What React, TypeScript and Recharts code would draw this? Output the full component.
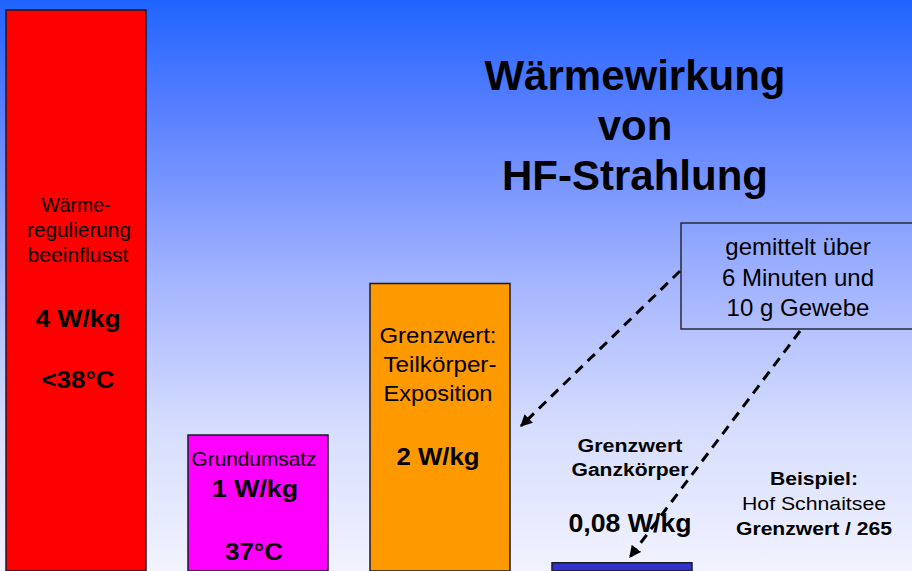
import React from 'react';
import { BarChart, Bar, XAxis, YAxis, Cell } from 'recharts';

// Balken: Wärmewirkung in W/kg (Höhen)
const kategorien = ['Wärmeregulierung', 'Grundumsatz', 'Teilkörper', 'Ganzkörper', 'Hof Schnaitsee'];
const werte = [4.0, 0.97, 2.05, 0.058, 0.0003];
const farben = ['#ff0000', '#ff00ff', '#ff9900', '#3333cc', '#3333cc'];

const daten = kategorien.map((name, i) => ({ name, wert: werte[i] }));

const titelZeilen = ['Wärmewirkung', 'von', 'HF-Strahlung'];
const boxZeilen = ['gemittelt über', '6 Minuten und', '10 g Gewebe'];

type Txt = { t: string; x: number; y: number; s: number; b?: boolean; w?: number };

// Beschriftungen (Layout)
const texte: Txt[] = [
  { t: 'Wärme-', x: 76, y: 212, s: 20, w: 69 },
  { t: 'regulierung', x: 79, y: 237, s: 20, w: 104 },
  { t: 'beeinflusst', x: 78, y: 262, s: 20, w: 101 },
  { t: '4 W/kg', x: 78, y: 327, s: 23, b: true, w: 85 },
  { t: '<38°C', x: 78, y: 388, s: 23, b: true, w: 73 },

  { t: 'Grundumsatz', x: 254, y: 466, s: 20, w: 125 },
  { t: '1 W/kg', x: 255, y: 497, s: 24, b: true, w: 86 },
  { t: '37°C', x: 254, y: 560, s: 24, b: true, w: 58 },

  { t: 'Grenzwert:', x: 438, y: 343, s: 22, w: 117 },
  { t: 'Teilkörper-', x: 440, y: 372, s: 22, w: 113 },
  { t: 'Exposition', x: 438, y: 401, s: 22, w: 109 },
  { t: '2 W/kg', x: 438, y: 465, s: 24, b: true, w: 83 },

  { t: 'Grenzwert', x: 630, y: 452, s: 18, b: true, w: 105 },
  { t: 'Ganzkörper', x: 630, y: 476, s: 18, b: true, w: 117 },
  { t: '0,08 W/kg', x: 630, y: 532, s: 25, b: true, w: 123 },

  { t: 'Beispiel:', x: 814, y: 485, s: 18, b: true, w: 88 },
  { t: 'Hof Schnaitsee', x: 814, y: 510, s: 18, w: 144 },
  { t: 'Grenzwert / 265', x: 814, y: 535, s: 18, b: true, w: 156 },
];

const FONT = '"Liberation Sans", Arial, sans-serif';

const App: React.FC = () => {
  return (
    <div
      style={{
        position: 'absolute',
        left: 0,
        top: 0,
        width: 912,
        height: 571,
        overflow: 'hidden',
        background: 'linear-gradient(to bottom, #1f64ff 0%, #5a80ff 20%, #a6b6ff 50%, #d6ddfd 75%, #f2f3ff 100%)',
      }}
    >
      <div style={{ position: 'absolute', left: -15, top: 0 }}>
        <BarChart width={910} height={571} data={daten} margin={{ top: 10, right: 0, bottom: 0, left: 0 }} barCategoryGap={21}>
          <XAxis dataKey="name" hide />
          <YAxis hide domain={[0, 4]} />
          <Bar dataKey="wert" isAnimationActive={false} strokeWidth={1.5}>
            {daten.map((d, i) => (
              <Cell key={d.name} fill={farben[i]} stroke={i < 4 ? '#1a1a2a' : 'none'} />
            ))}
          </Bar>
        </BarChart>
      </div>

      <svg width={912} height={571} style={{ position: 'absolute', left: 0, top: 0 }}>
        <defs>
          <marker id="pfeil" viewBox="0 0 10 10" refX="9" refY="5" markerWidth="4" markerHeight="4" orient="auto">
            <path d="M0,0 L10,5 L0,10 z" fill="#000" />
          </marker>
          <linearGradient id="boxgrad" x1="0" y1="0" x2="0" y2="1">
            <stop offset="0%" stopColor="#8aa2ff" />
            <stop offset="100%" stopColor="#b2bfff" />
          </linearGradient>
        </defs>

        {titelZeilen.map((z, i) => (
          <text key={z} x={635} y={90 + i * 50} textAnchor="middle" fontFamily={FONT} fontWeight="bold" fontSize={42} fill="#000">
            {z}
          </text>
        ))}

        <rect x={681} y={223} width={240} height={106} fill="url(#boxgrad)" stroke="#2a2a3a" strokeWidth={1.5} />
        {boxZeilen.map((z, i) => (
          <text key={z} x={798} y={255 + i * 30.5} textAnchor="middle" fontFamily={FONT} fontSize={24} fill="#000">
            {z}
          </text>
        ))}

        <line x1={680} y1={271} x2={521} y2={426} stroke="#000" strokeWidth={3} strokeDasharray="10 7" markerEnd="url(#pfeil)" />
        <line x1={800} y1={331} x2={630} y2={557} stroke="#000" strokeWidth={3} strokeDasharray="10 7" markerEnd="url(#pfeil)" />

        {texte.map((t) => (
          <text
            key={t.t + t.y}
            x={t.x}
            y={t.y}
            textAnchor="middle"
            fontFamily={FONT}
            fontWeight={t.b ? 'bold' : 'normal'}
            fontSize={t.s}
            textLength={t.w}
            lengthAdjust="spacingAndGlyphs"
            fill="#000"
          >
            {t.t}
          </text>
        ))}
      </svg>
    </div>
  );
};

export default App;
